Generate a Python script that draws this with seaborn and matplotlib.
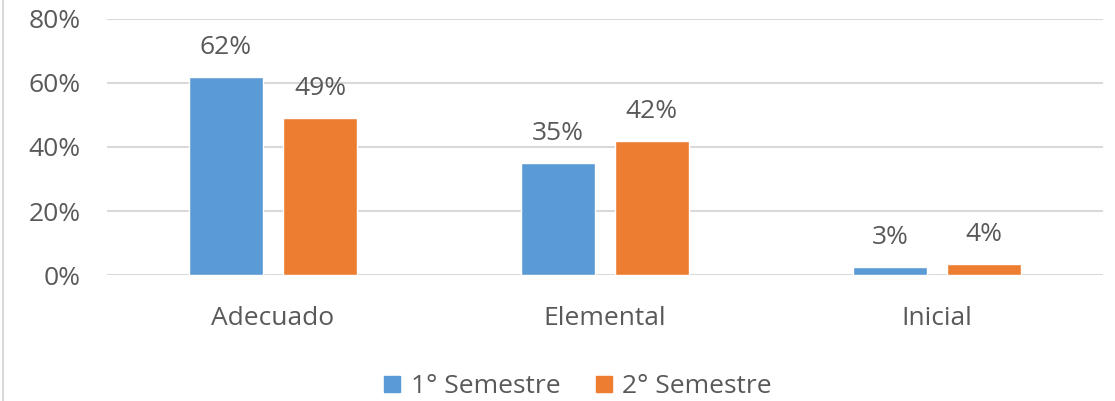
import pandas as pd
import matplotlib.pyplot as plt
import seaborn as sns
from matplotlib.lines import Line2D

# datos
categorias = ['Adecuado', 'Elemental', 'Inicial']
semestres = ['1° Semestre', '2° Semestre']
valores_s1 = [0.62, 0.35, 0.026]
valores_s2 = [0.49, 0.42, 0.036]
ticks_y = [0, 0.2, 0.4, 0.6, 0.8]

colores = ['#5B9BD5', '#ED7D31']
gris_texto = '#595959'
tam = 19

sns.set_style('white')
plt.rcParams['font.family'] = ['Open Sans', 'DejaVu Sans']

df = pd.DataFrame({
    'categoria': categorias * 2,
    'semestre': [semestres[0]] * 3 + [semestres[1]] * 3,
    'valor': valores_s1 + valores_s2,
})

fig = plt.figure(figsize=(11.15, 4.01), dpi=100)
ax = fig.add_axes([0.096, 0.314, 0.893, 0.639])

sns.barplot(data=df, x='categoria', y='valor', hue='semestre', order=categorias,
            hue_order=semestres, palette=colores, width=0.566, gap=0.21,
            saturation=1, ax=ax, legend=False)

ax.set_ylim(0, 0.8)
ax.set_xlim(-0.5, 2.5)
ax.set_yticks(ticks_y)
ax.set_yticklabels([f'{int(round(t * 100))}%' for t in ticks_y])
ax.yaxis.grid(True, color='#D9D9D9', linewidth=1.5)
ax.set_axisbelow(True)
for s in ax.spines.values():
    s.set_visible(False)
ax.tick_params(axis='y', length=0, pad=19, labelsize=tam, labelcolor=gris_texto)
ax.tick_params(axis='x', length=0, pad=22, labelsize=tam, labelcolor=gris_texto)
ax.set_xlabel('')
ax.set_ylabel('')

for cont in ax.containers:
    ax.bar_label(cont, labels=[f'{v * 100:.0f}%' for v in cont.datavalues],
                 padding=12, fontsize=tam, color=gris_texto)

handles = [Line2D([], [], marker='s', linestyle='', markersize=11, color=c) for c in colores]
fig.legend(handles, semestres, loc='center', bbox_to_anchor=(0.518, 0.035), ncol=2,
           frameon=False, fontsize=tam, labelcolor=gris_texto, handlelength=0.7,
           handletextpad=0.35, columnspacing=1.3)

# borde izquierdo del area del grafico
fig.add_artist(Line2D([0.003, 0.003], [0, 1], color='#D9D9D9', linewidth=1.5,
                      transform=fig.transFigure))

fig.savefig('out.png', dpi=100)
